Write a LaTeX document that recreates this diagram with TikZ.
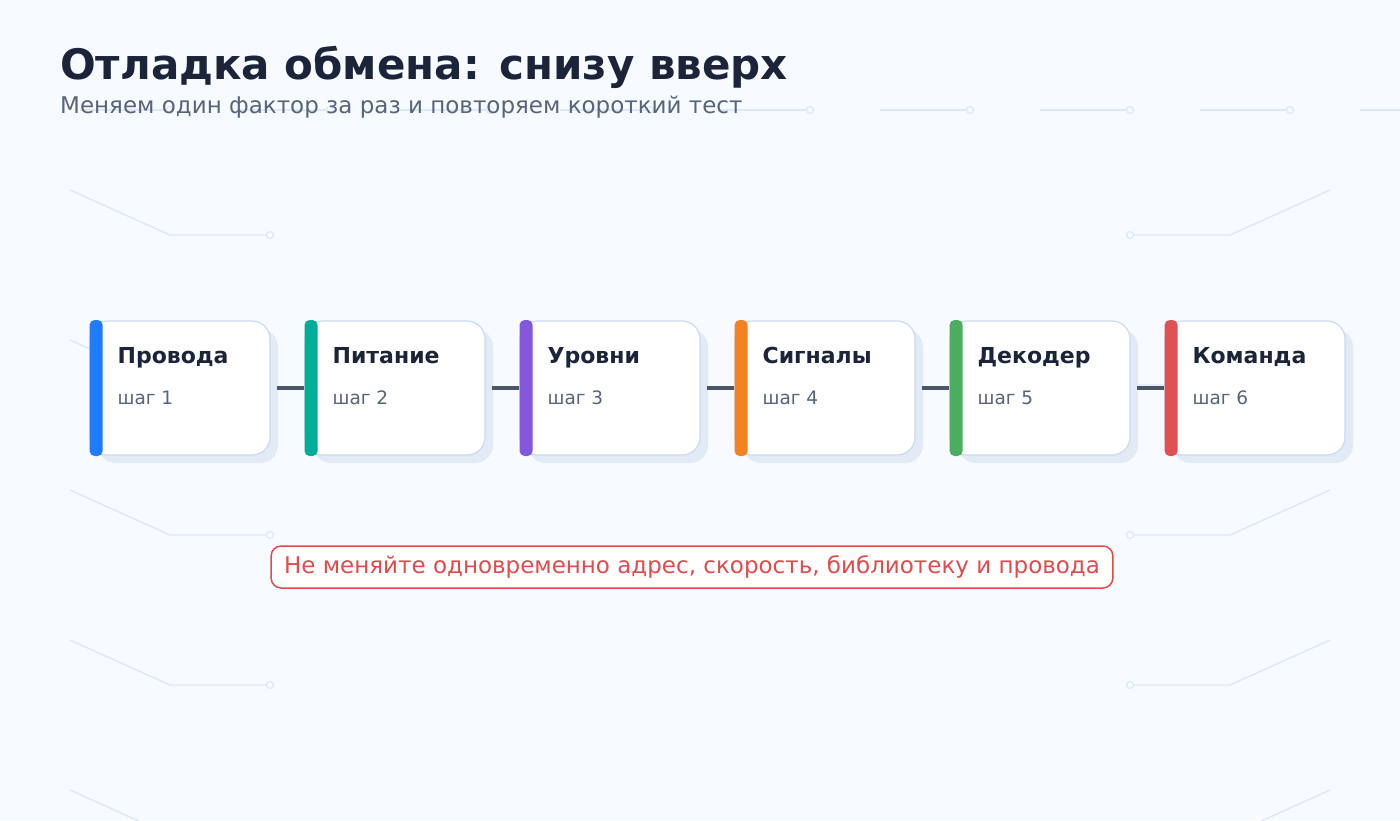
\documentclass[tikz,border=0pt]{standalone}
\usepackage{fontspec}
\setmainfont{DejaVu Sans}
\usepackage{xcolor}
\usepackage{tikz}
\usetikzlibrary{positioning, shadows}

\begin{document}
\begin{tikzpicture}[x=1pt, y=-1pt,
    card/.style={draw=cardline, fill=white, line width=1.2pt, rounded corners=18pt,
                 minimum width=180pt, minimum height=134pt,
                 drop shadow={shadow xshift=8pt, shadow yshift=-8pt, fill=shadowC, opacity=1}},
    accent/.style={rectangle, rounded corners=5pt, minimum width=13pt, minimum height=136pt,
                   inner sep=0pt, anchor=west},
    steptitle/.style={anchor=base west, inner sep=0pt, text=inkC,
                      font=\bfseries\fontsize{22}{26}\selectfont},
    stepno/.style={anchor=base west, inner sep=0pt, text=mutedC,
                   font=\fontsize{18.5}{22}\selectfont},
    link/.style={draw=linkC, line width=3.5pt},
    trace/.style={draw=traceC, line width=1.4pt},
    pad/.style={draw=traceC, fill=bgC, line width=1.2pt},
    warn/.style={draw=warnC, fill=white, line width=1.5pt, rounded corners=10pt,
                 minimum height=42pt, inner xsep=13pt, text=warnC,
                 font=\fontsize{23}{27}\selectfont},
]

% Color definitions
\definecolor{bgC}{HTML}{F7FBFF}
\definecolor{traceC}{HTML}{DCE8F6}
\definecolor{inkC}{HTML}{1B2438}
\definecolor{mutedC}{HTML}{56647C}
\definecolor{cardline}{HTML}{CCDAEE}
\definecolor{shadowC}{HTML}{E2EAF6}
\definecolor{linkC}{HTML}{4B5568}
\definecolor{warnC}{HTML}{E04B4B}
\definecolor{wiresC}{HTML}{1F7BFF}
\definecolor{powerC}{HTML}{00AE98}
\definecolor{levelsC}{HTML}{8458DC}
\definecolor{signalsC}{HTML}{F48220}
\definecolor{decoderC}{HTML}{4BAE5E}
\definecolor{commandC}{HTML}{E05252}

% Background
\clip (0,0) rectangle (1400,820);
\fill[bgC] (0,0) rectangle (1400,820);

% Circuit traces (left side)
\draw[trace] (70,190) -- (170,235) -- (270,235);
\draw[trace] (70,340) -- (170,385) -- (270,385);
\draw[trace] (70,490) -- (170,535) -- (270,535);
\draw[trace] (70,640) -- (170,685) -- (270,685);
\draw[trace] (70,790) -- (170,835) -- (270,835);
\draw[pad] (270,235) circle (3.5);
\draw[pad] (270,385) circle (3.5);
\draw[pad] (270,535) circle (3.5);
\draw[pad] (270,685) circle (3.5);

% Circuit traces (right side)
\draw[trace] (1330,190) -- (1230,235) -- (1130,235);
\draw[trace] (1330,340) -- (1230,385) -- (1130,385);
\draw[trace] (1330,490) -- (1230,535) -- (1130,535);
\draw[trace] (1330,640) -- (1230,685) -- (1130,685);
\draw[trace] (1330,790) -- (1230,835) -- (1130,835);
\draw[pad] (1130,235) circle (3.5);
\draw[pad] (1130,385) circle (3.5);
\draw[pad] (1130,535) circle (3.5);
\draw[pad] (1130,685) circle (3.5);

% Circuit traces (top row)
\draw[trace] (80,110) -- (170,110);   \draw[pad] (170,110) circle (3.5);
\draw[trace] (240,110) -- (330,110);  \draw[pad] (330,110) circle (3.5);
\draw[trace] (400,110) -- (490,110);  \draw[pad] (490,110) circle (3.5);
\draw[trace] (560,110) -- (650,110);  \draw[pad] (650,110) circle (3.5);
\draw[trace] (720,110) -- (810,110);  \draw[pad] (810,110) circle (3.5);
\draw[trace] (880,110) -- (970,110);  \draw[pad] (970,110) circle (3.5);
\draw[trace] (1040,110) -- (1130,110); \draw[pad] (1130,110) circle (3.5);
\draw[trace] (1200,110) -- (1290,110); \draw[pad] (1290,110) circle (3.5);
\draw[trace] (1360,110) -- (1450,110);

% Heading
\node[anchor=base west, inner sep=0pt, text=inkC, font=\bfseries\fontsize{42}{50}\selectfont]
  (title) at (60,79) {Отладка обмена: снизу вверх};
\node[anchor=base west, inner sep=0pt, text=mutedC, font=\fontsize{23}{27}\selectfont]
  (subtitle) at (60,113) {Меняем один фактор за раз и повторяем короткий тест};

% Step cards
\node[card] (wires)   at (180,388)  {};
\node[card] (power)   at (395,388)  {};
\node[card] (levels)  at (610,388)  {};
\node[card] (signals) at (825,388)  {};
\node[card] (decoder) at (1040,388) {};
\node[card] (command) at (1255,388) {};

% Links between steps
\draw[link] ([xshift=6pt]wires.east)   -- (power.west);
\draw[link] ([xshift=6pt]power.east)   -- (levels.west);
\draw[link] ([xshift=6pt]levels.east)  -- (signals.west);
\draw[link] ([xshift=6pt]signals.east) -- (decoder.west);
\draw[link] ([xshift=6pt]decoder.east) -- (command.west);

% Accent bars
\node[accent, fill=wiresC]   (wiresbar)   at (wires.west)   {};
\node[accent, fill=powerC]   (powerbar)   at (power.west)   {};
\node[accent, fill=levelsC]  (levelsbar)  at (levels.west)  {};
\node[accent, fill=signalsC] (signalsbar) at (signals.west) {};
\node[accent, fill=decoderC] (decoderbar) at (decoder.west) {};
\node[accent, fill=commandC] (commandbar) at (command.west) {};

% Card texts
\node[steptitle] at ([xshift=28pt, yshift=25pt]wires.west)   {Провода};
\node[stepno]    at ([xshift=28pt, yshift=-16pt]wires.west)  {шаг 1};
\node[steptitle] at ([xshift=28pt, yshift=25pt]power.west)   {Питание};
\node[stepno]    at ([xshift=28pt, yshift=-16pt]power.west)  {шаг 2};
\node[steptitle] at ([xshift=28pt, yshift=25pt]levels.west)  {Уровни};
\node[stepno]    at ([xshift=28pt, yshift=-16pt]levels.west) {шаг 3};
\node[steptitle] at ([xshift=28pt, yshift=25pt]signals.west) {Сигналы};
\node[stepno]    at ([xshift=28pt, yshift=-16pt]signals.west) {шаг 4};
\node[steptitle] at ([xshift=28pt, yshift=25pt]decoder.west) {Декодер};
\node[stepno]    at ([xshift=28pt, yshift=-16pt]decoder.west) {шаг 5};
\node[steptitle] at ([xshift=28pt, yshift=25pt]command.west) {Команда};
\node[stepno]    at ([xshift=28pt, yshift=-16pt]command.west) {шаг 6};

% Warning
\node[warn] (warning) at (692,567)
  {Не меняйте одновременно адрес, скорость, библиотеку и провода};

\end{tikzpicture}
\end{document}
